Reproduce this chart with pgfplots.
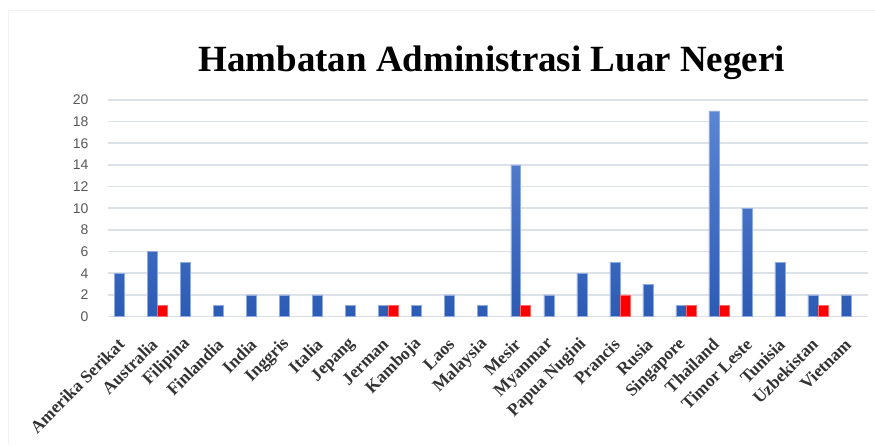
\documentclass[border=0pt]{standalone}
\usepackage{fontspec}
\setmainfont{Liberation Serif}
\setsansfont{Liberation Sans}
\usepackage{pgfplots}
\pgfplotsset{compat=1.18}
\definecolor{gridgray}{HTML}{DDE1E8}
\definecolor{bartop}{HTML}{5C86D4}
\definecolor{barbot}{HTML}{2C5BB5}
\definecolor{barred}{HTML}{FF0000}
\definecolor{ticktext}{HTML}{595959}

\begin{document}
\begin{tikzpicture}[x=1pt,y=1pt]
  % page frame, 875 x 445
  \path[fill=white] (0,0) rectangle (875,445);
  \draw[gray!10, line width=1pt] (9,0) -- (9,434) -- (875,434);
  \node[anchor=base, font=\bfseries\fontsize{37}{42}\selectfont] at (492,373) {Hambatan Administrasi Luar Negeri};

  \begin{axis}[
      at={(108pt,128.3pt)}, anchor=south west,
      scale only axis,
      width=760pt, height=216.7pt,
      ybar=0pt, bar width=10pt,
      xmin=-0.5, xmax=22.5,
      ymin=0, ymax=20,
      ytick={0,2,...,20},
      xtick={0,...,22},
      xticklabels={Amerika Serikat,Australia,Filipina,Finlandia,India,Inggris,Italia,Jepang,Jerman,Kamboja,Laos,Malaysia,Mesir,Myanmar,Papua Nugini,Prancis,Rusia,Singapore,Thailand,Timor Leste,Tunisia,Uzbekistan,Vietnam},
      xticklabel style={anchor=east, xshift=-3pt, yshift=-25pt, rotate=45, font=\bfseries\fontsize{17.5}{19}\selectfont, text=black!80, inner sep=0pt},
      yticklabel style={font=\sffamily\fontsize{14}{16}\selectfont, text=ticktext, xshift=-16pt},
      /pgf/number format/assume math mode=true,
      axis line style={draw=none},
      major tick length=0pt,
      ymajorgrids,
      grid style={gridgray, line width=1.6pt},
      clip=false,
    ]
    \addplot[draw=bartop!70, top color=bartop, bottom color=barbot, line width=0.5pt]
      coordinates {(0,4)(1,6)(2,5)(3,1)(4,2)(5,2)(6,2)(7,1)(8,1)(9,1)(10,2)(11,1)(12,14)(13,2)(14,4)(15,5)(16,3)(17,1)(18,19)(19,10)(20,5)(21,2)(22,2)};
    \addplot[draw=red!60, fill=barred, line width=0.5pt]
      coordinates {(1,1)(8,1)(12,1)(15,2)(17,1)(18,1)(21,1)};
  \end{axis}
\end{tikzpicture}
\end{document}
